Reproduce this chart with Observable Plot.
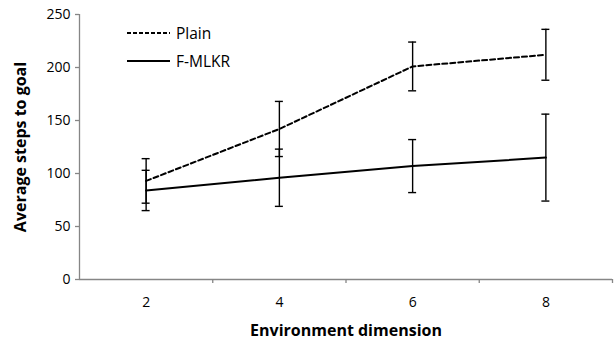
<!DOCTYPE html>
<html><head><meta charset="utf-8">
<script src="https://cdn.jsdelivr.net/npm/d3@7"></script>
<script src="https://cdn.jsdelivr.net/npm/@observablehq/plot@0.6"></script>
<style>
body{margin:0;background:#fff;}
#wrap{position:relative;width:614px;height:339px;font-family:"Open Sans",Lato,sans-serif;}
#legend{position:absolute;left:127px;top:22px;font-size:15.5px;color:#000;line-height:22px;}
#legend div{display:flex;align-items:center;height:22px;margin-bottom:6px;}
#legend svg{margin-right:6px;}
</style></head>
<body><div id="wrap"><div id="legend"></div></div>
<script>
const dims = [2, 4, 6, 8];
const plainMean = [93, 142, 201, 212];
const plainErr = [21, 26, 23, 24];
const fmlkrMean = [84, 96, 107, 115];
const fmlkrErr = [19, 27, 25, 41];
const seriesNames = ["Plain", "F-MLKR"];
const yTicks = [0, 50, 100, 150, 200, 250];
const xBoundaries = [3, 5, 7, 9];

const rows = [];
dims.forEach((d, i) => {
  rows.push({series: "Plain", dim: d, mean: plainMean[i], err: plainErr[i]});
  rows.push({series: "F-MLKR", dim: d, mean: fmlkrMean[i], err: fmlkrErr[i]});
});
const plain = rows.filter(r => r.series === "Plain");
const fmlkr = rows.filter(r => r.series === "F-MLKR");
const cap = 0.06;
const axisColor = "#868686";
const font = "'Open Sans', Lato, sans-serif";

const chart = Plot.plot({
  width: 614, height: 339,
  marginLeft: 79, marginRight: 2, marginTop: 14, marginBottom: 60,
  style: {fontFamily: font, fontSize: "14px", color: "#000", background: "#fff"},
  x: {domain: [1, 9]},
  y: {domain: [0, 250]},
  marks: [
    Plot.ruleX([1], {stroke: axisColor, strokeWidth: 1.3, y1: 0, y2: 250}),
    Plot.ruleY([0], {stroke: axisColor, strokeWidth: 1.3}),
    Plot.axisY({ticks: yTicks, tickSize: 4, tickPadding: 5, stroke: axisColor, strokeWidth: 1.3, label: "Average steps to goal", labelAnchor: "center", labelArrow: "none", labelOffset: 65, fontSize: "14px", fill: "#000"}),
    Plot.axisX({ticks: dims, tickSize: 0, tickPadding: 18, label: null, fill: "#000", fontSize: "14px"}),
    Plot.axisX({ticks: xBoundaries, tickSize: 4, tickFormat: () => "", stroke: axisColor, strokeWidth: 1.3, label: null}),
    Plot.axisX({ticks: [], label: "Environment dimension", labelAnchor: "center", labelArrow: "none", labelOffset: 56}),
    Plot.line(plain, {x: "dim", y: "mean", stroke: "#000", strokeWidth: 2, strokeDasharray: "5,3"}),
    Plot.line(fmlkr, {x: "dim", y: "mean", stroke: "#000", strokeWidth: 2}),
    Plot.ruleX(rows, {x: "dim", y1: d => d.mean - d.err, y2: d => d.mean + d.err, stroke: "#000", strokeWidth: 1.4}),
    Plot.ruleY(rows, {y: d => d.mean - d.err, x1: d => d.dim - cap, x2: d => d.dim + cap, stroke: "#000", strokeWidth: 1.4}),
    Plot.ruleY(rows, {y: d => d.mean + d.err, x1: d => d.dim - cap, x2: d => d.dim + cap, stroke: "#000", strokeWidth: 1.4})
  ]
});
d3.select(chart).selectAll("[aria-label='y-axis label'] text, [aria-label='x-axis label'] text")
  .style("font-weight", "bold").style("font-size", "16px");
document.getElementById("wrap").prepend(chart);

const leg = d3.select("#legend");
seriesNames.forEach((name, i) => {
  const row = leg.append("div");
  const s = row.append("svg").attr("width", 43).attr("height", 4);
  s.append("line").attr("x1", 0).attr("x2", 43).attr("y1", 2).attr("y2", 2)
    .attr("stroke", "#000").attr("stroke-width", 2)
    .attr("stroke-dasharray", i === 0 ? "4,2" : null);
  row.append("span").text(name);
});
</script></body></html>
